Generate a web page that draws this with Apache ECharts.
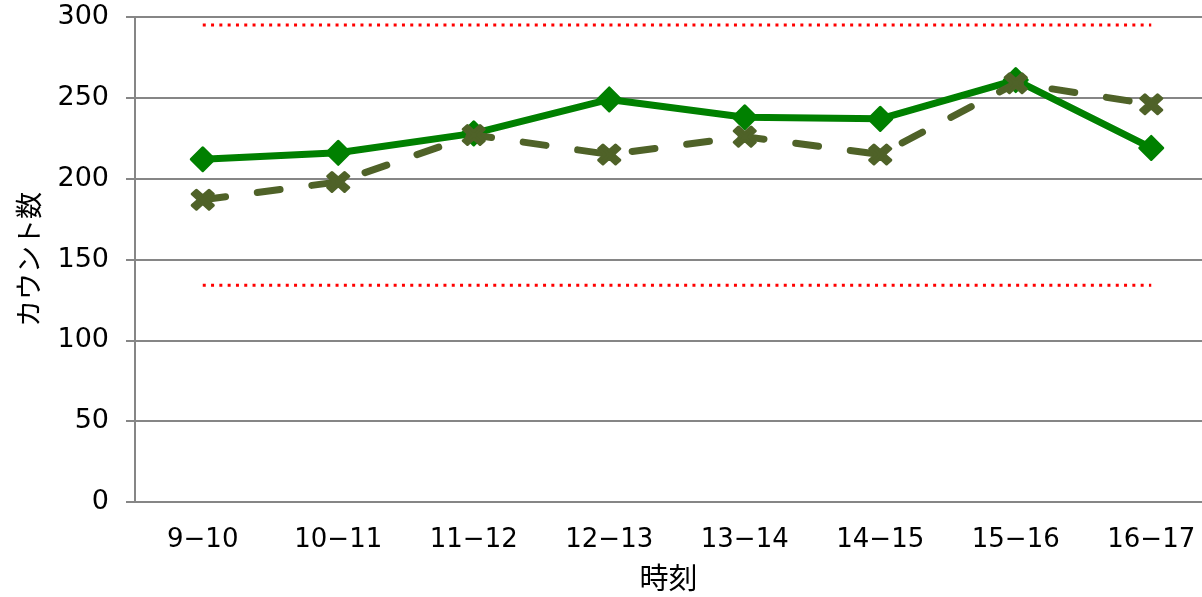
<!DOCTYPE html>
<html>
<head>
<meta charset="utf-8">
<script src="https://cdn.jsdelivr.net/npm/echarts@6/dist/echarts.min.js"></script>
<style>
html, body { margin: 0; padding: 0; background: #fff; }
#chart { width: 1202px; height: 597px; }
</style>
</head>
<body>
<div id="chart"></div>
<script>
// Hourly counts per time slot
const categories = ['9-10', '10-11', '11-12', '12-13', '13-14', '14-15', '15-16', '16-17'];
const countA = [212, 216, 228, 249, 238, 237, 261, 219];
const countB = [187, 198, 227, 215, 226, 215, 259, 246];
const upperLimit = 295;
const lowerLimit = 134;
const yTicks = { min: 0, max: 300, interval: 50 };

const FONT = '"Noto Sans CJK JP", "Noto Sans", sans-serif';
const NUM_FONT = '"DejaVu Sans", "Noto Sans CJK JP", sans-serif';
const GRID_GRAY = '#868686';

// thick X marker
const crossPath = 'path://M2,0 L5,3 L8,0 L10,2 L7,5 L10,8 L8,10 L5,7 L2,10 L0,8 L3,5 L0,2 Z';

const chart = echarts.init(document.getElementById('chart'), null, { renderer: 'canvas' });

chart.setOption({
  animation: false,
  backgroundColor: '#fff',
  // plot area runs past the right edge of the canvas
  grid: { left: 135, top: 17, right: -17, bottom: 95, containLabel: false, outerBoundsMode: 'none' },
  xAxis: {
    type: 'category',
    data: categories,
    boundaryGap: true,
    name: '時刻',
    nameLocation: 'middle',
    nameGap: 61,
    nameTextStyle: { fontFamily: FONT, fontSize: 29, color: '#000', padding: [0, 17, 0, 0] },
    axisLine: { show: true, lineStyle: { color: GRID_GRAY, width: 2 } },
    axisTick: { show: false },
    axisLabel: {
      fontFamily: NUM_FONT, fontSize: 26, color: '#000', margin: 25,
      formatter: v => v.replace('-', '\u2212')
    },
    splitLine: { show: false }
  },
  yAxis: {
    type: 'value',
    min: yTicks.min,
    max: yTicks.max,
    interval: yTicks.interval,
    name: 'カウント数',
    nameLocation: 'middle',
    nameGap: 93,
    nameRotate: 90,
    nameTextStyle: { fontFamily: FONT, fontSize: 27, color: '#000' },
    axisLine: { show: true, lineStyle: { color: GRID_GRAY, width: 2 } },
    axisTick: { show: true, length: 9, inside: false, lineStyle: { color: GRID_GRAY, width: 2 } },
    axisLabel: { fontFamily: NUM_FONT, fontSize: 27, color: '#000', margin: 26, padding: [4, 0, 0, 0] },
    splitLine: { show: true, lineStyle: { color: GRID_GRAY, width: 2 } }
  },
  series: [
    {
      name: '上限',
      type: 'line',
      data: categories.map(() => upperLimit),
      symbol: 'none',
      lineStyle: { color: '#ff0000', width: 3, type: [3, 5.3], cap: 'butt' },
      z: 1
    },
    {
      name: '下限',
      type: 'line',
      data: categories.map(() => lowerLimit),
      symbol: 'none',
      lineStyle: { color: '#ff0000', width: 3, type: [3, 5.3], cap: 'butt' },
      z: 1
    },
    {
      name: '実績',
      type: 'line',
      data: countA,
      symbol: 'diamond',
      symbolSize: 23,
      itemStyle: { color: '#008000', borderColor: '#008000', borderWidth: 3, borderJoin: 'round' },
      lineStyle: { color: '#008000', width: 7, join: 'round' },
      z: 3
    },
    {
      name: '比較',
      type: 'line',
      data: countB,
      symbol: crossPath,
      symbolSize: [21, 19],
      itemStyle: { color: '#4f6228', borderColor: '#4f6228', borderWidth: 3, borderJoin: 'round' },
      lineStyle: { color: '#4f6228', width: 7, type: [23, 32], cap: 'round', join: 'round' },
      z: 4
    }
  ]
});
</script>
</body>
</html>
